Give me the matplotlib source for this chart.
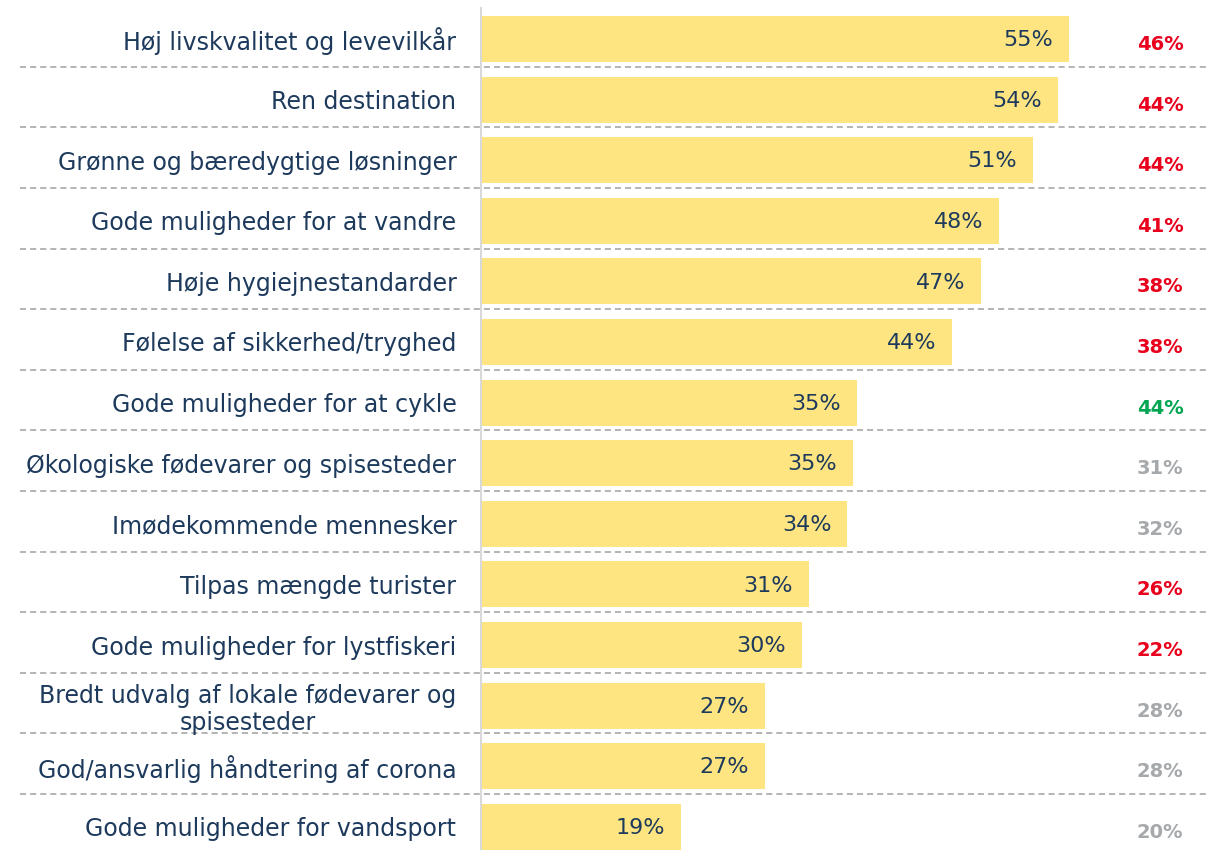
import matplotlib.pyplot as plt

# ------------------------------------------------------------
# Data
# ------------------------------------------------------------
categories = [
    "Høj livskvalitet og levevilkår",
    "Ren destination",
    "Grønne og bæredygtige løsninger",
    "Gode muligheder for at vandre",
    "Høje hygiejnestandarder",
    "Følelse af sikkerhed/tryghed",
    "Gode muligheder for at cykle",
    "Økologiske fødevarer og spisesteder",
    "Imødekommende mennesker",
    "Tilpas mængde turister",
    "Gode muligheder for lystfiskeri",
    "Bredt udvalg af lokale fødevarer og\nspisesteder",
    "God/ansvarlig håndtering af corona",
    "Gode muligheder for vandsport",
]
values = [55.0, 54.0, 51.6, 48.5, 46.8, 44.1, 35.2, 34.8, 34.3, 30.7, 30.1, 26.6, 26.6, 18.8]
value_labels = ["55%", "54%", "51%", "48%", "47%", "44%", "35%",
                "35%", "34%", "31%", "30%", "27%", "27%", "19%"]
compare_values = [46, 44, 44, 41, 38, 38, 44, 31, 32, 26, 22, 28, 28, 20]
compare_status = ["down", "down", "down", "down", "down", "down", "up",
                  "same", "same", "down", "down", "same", "same", "same"]

NAVY = "#1d3a5c"
BAR = "#fee581"
STATUS_COLORS = {"down": "#e8001c", "up": "#00a651", "same": "#a6a9ab"}

plt.rcParams["font.family"] = ["DejaVu Sans"]

fig = plt.figure(figsize=(12.09, 8.50), dpi=100)
# bar area starts at the grey axis line (~x=480 px) and runs to the right edge
ax = fig.add_axes([480 / 1209, 0, 1 - 480 / 1209, 1])

ypos = list(range(len(categories)))
ax.barh(ypos, values, height=0.76, color=BAR, zorder=2)

ax.set_xlim(0, 729 / 10.71)
ax.set_ylim((850 - 39) / 60.6, -39 / 60.6)

# value labels inside bars
for y, v, lab in zip(ypos, values, value_labels):
    ax.text(v - 1.5, y + 0.02, lab, ha="right", va="center",
            fontsize=16, color=NAVY, zorder=3)

# comparison column on the right
trans = ax.get_yaxis_transform()
for y, v, s in zip(ypos, compare_values, compare_status):
    ax.text(0.933, y + 0.09, f"{v}%", transform=trans, ha="center",
            va="center", fontsize=14, fontweight="bold",
            color=STATUS_COLORS[s])

# dashed row separators, running into the label area
for y in ypos[:-1]:
    ax.plot([-0.631, 1.0], [y + 0.46, y + 0.46], transform=trans,
            color="#a0a0a0", lw=1.1, linestyle=(0, (4, 2.6)),
            clip_on=False, zorder=1)

# thin grey axis line
ax.axvline(0, ymin=0, ymax=(850 - 8) / 850, color="#d9d9d9", lw=2.2, zorder=4)

ax.set_yticks(ypos)
ax.set_yticklabels(categories, fontsize=17, color=NAVY)
for lab in ax.get_yticklabels():
    lab.set_multialignment("center")
    lab.set_linespacing(1.15)
ax.tick_params(axis="y", length=0, pad=17)
ax.set_xticks([])
for sp in ax.spines.values():
    sp.set_visible(False)

fig.savefig("out.png", dpi=100)
